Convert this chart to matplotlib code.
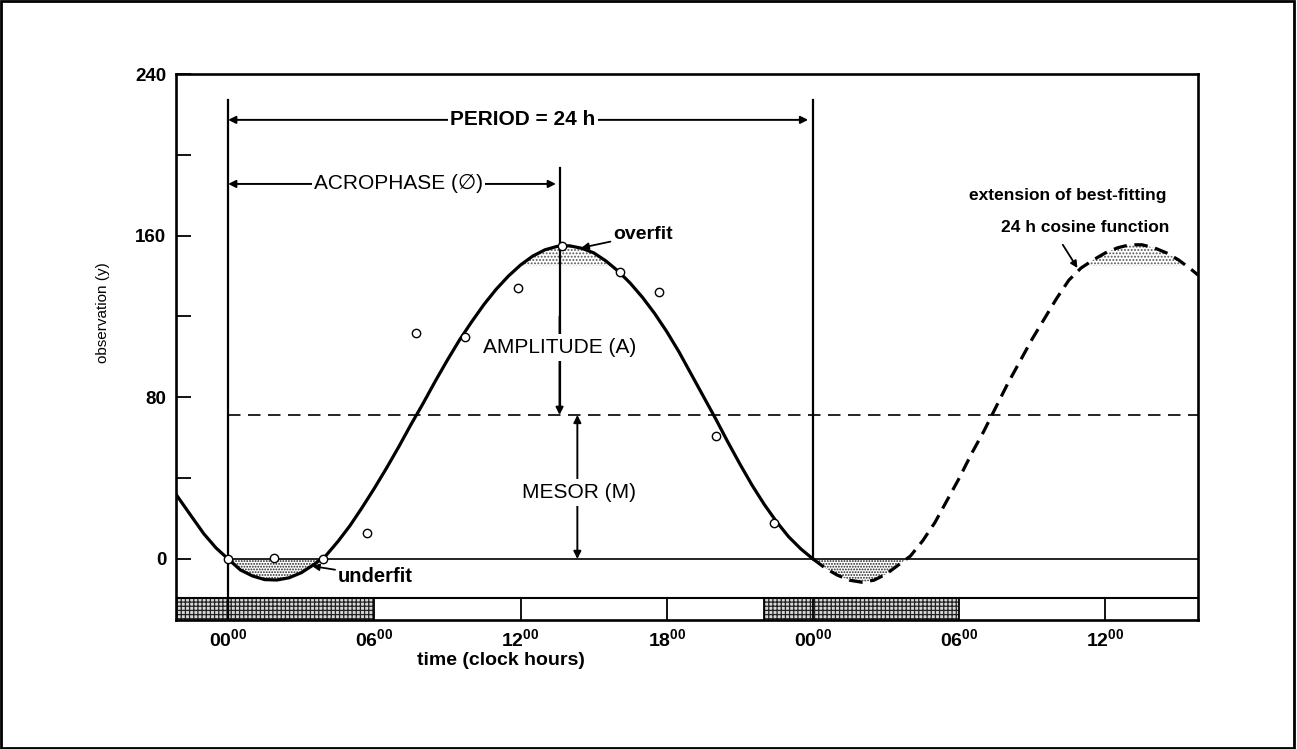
import numpy as np
import matplotlib
matplotlib.use("Agg")
import matplotlib.pyplot as plt
from matplotlib.patches import Rectangle

plt.rcParams['font.family'] = ['Liberation Sans', 'DejaVu Sans']
plt.rcParams['mathtext.fontset'] = 'custom'
plt.rcParams['mathtext.bf'] = 'Liberation Sans:bold'
plt.rcParams['mathtext.rm'] = 'Liberation Sans'
plt.rcParams['hatch.linewidth'] = 0.9

# fitted cosine (solid part, one period)
fit_t = [-2.14, -1.5, -1, -0.5, 0, 0.5, 1, 1.5, 2, 2.5, 3, 3.5, 4, 4.5, 5, 5.5,
         6, 6.5, 7, 7.5, 8, 8.5, 9, 9.5, 10, 10.5, 11, 11.5, 12, 12.5, 13, 13.5,
         14, 14.5, 15, 15.5, 16, 16.5, 17, 17.5, 18, 18.5, 19, 19.5, 20, 20.5,
         21, 21.5, 22, 22.5, 23, 23.5, 24]
fit_y = [32, 21, 12.5, 5.5, 0, -5.4, -8.4, -10.2, -10.4, -9.3, -6.8, -2.9, 1.5,
         8.6, 16.5, 25.5, 35, 45, 55.5, 66.5, 77, 88, 98.5, 108.5, 117.5, 126,
         133.5, 140, 145.5, 149.9, 153, 154.7, 155, 153.8, 151.5, 147.5, 142.5,
         136.5, 129.5, 121.5, 112.5, 102.5, 91.5, 80.5, 69.5, 58, 47, 36.5, 27,
         18.5, 11, 5, 0]

# extension of the cosine (dashed)
ext_t = [24, 24.5, 25, 25.5, 26, 26.5, 27, 27.5, 28, 28.5, 29, 29.5, 30, 30.5,
         31, 31.5, 32, 32.5, 33, 33.5, 34, 34.5, 35, 35.5, 36, 36.5, 37, 37.5,
         38, 38.5, 39, 39.5, 39.8]
ext_y = [0, -4.5, -8, -10.5, -11.5, -10.5, -7.5, -3, 1.5, 9, 18, 29, 40, 52,
         63, 75, 87, 98, 109, 119, 129, 138, 144, 148, 151.5, 154, 155.5, 155.5,
         154, 151.5, 148, 143.5, 140.5]

# observations (open circles)
obs_t = [0, 1.9, 3.9, 5.7, 7.7, 9.7, 11.9, 13.7, 16.1, 17.7, 20.0, 22.4]
obs_y = [0, 0.5, 0, 13, 112, 110, 134, 155, 142, 132, 61, 18]

mesor = 71.3
acrophase = 13.6
overfit_level = 145

# light/dark bar at bottom
dark_start = [-2.14, 22]
dark_end = [6, 30]
bar_dividers = [0, 12, 18, 24, 36]

xticks = [0, 6, 12, 18, 24, 30, 36]
xtick_labels = ['00', '06', '12', '18', '00', '06', '12']
yticks = [0, 40, 80, 120, 160, 200, 240]
ytick_labels = ['0', '', '80', '', '160', '', '240']

x_lo, x_hi = -2.14, 39.8
y_lo, y_hi = -30.2, 240
bar_top = -19.3

fig = plt.figure(figsize=(12.97, 7.49), dpi=100)
ax = fig.add_axes([0.1357, 0.1722, 0.7880, 0.7290])
ax.set_xlim(x_lo, x_hi)
ax.set_ylim(y_lo, y_hi)

fit_t = np.array(fit_t)
fit_y = np.array(fit_y)
ext_t = np.array(ext_t)
ext_y = np.array(ext_y)

# shaded under/overfit areas
ax.fill_between(fit_t, fit_y, 0, where=(fit_y < 0) & (fit_t >= 0), interpolate=True,
                facecolor='white', edgecolor='#222222', hatch='......', linewidth=0)
ax.fill_between(fit_t, fit_y, overfit_level, where=fit_y > overfit_level, interpolate=True,
                facecolor='white', edgecolor='#555555', hatch='.....', linewidth=0)
ax.fill_between(ext_t, ext_y, 0, where=ext_y < 0, interpolate=True,
                facecolor='white', edgecolor='#222222', hatch='......', linewidth=0)
ax.fill_between(ext_t, ext_y, overfit_level, where=ext_y > overfit_level, interpolate=True,
                facecolor='white', edgecolor='#555555', hatch='.....', linewidth=0)

# curves
ax.plot(fit_t, fit_y, color='black', lw=2.3, solid_capstyle='round',
        solid_joinstyle='round', zorder=4)
ax.plot(ext_t, ext_y, color='black', lw=2.3, dashes=(4.2, 2.4), zorder=4)
ax.plot([0, x_hi], [mesor, mesor], color='black', lw=1.2, dashes=(7.5, 4.5), zorder=2)
ax.plot([0, x_hi], [0, 0], color='black', lw=1.2, zorder=2)

ax.plot(obs_t, obs_y, 'o', ms=6, mfc='white', mec='black', mew=1.0, zorder=5)

# bottom day/night bar
for s, e in zip(dark_start, dark_end):
    ax.barh(bar_top + (y_lo - bar_top) / 2, e - s, left=s, height=bar_top - y_lo,
            facecolor='#d8d8d8', edgecolor='#222222', hatch='++++', linewidth=0, zorder=1)
ax.plot([x_lo, x_hi], [bar_top, bar_top], color='black', lw=1.5)
for s, e in zip(dark_start, dark_end):
    ax.plot([s, s], [y_lo, bar_top], color='black', lw=1.3)
    ax.plot([e, e], [y_lo, bar_top], color='black', lw=1.3)
for d in bar_dividers:
    ax.plot([d, d], [y_lo, bar_top], color='black', lw=1.3)

# period / acrophase frame lines
ax.plot([0, 0], [y_lo, 227], color='black', lw=1.6, zorder=3)
ax.plot([24, 24], [0, 227], color='black', lw=1.6, zorder=3)
ax.plot([acrophase, acrophase], [193.5, mesor + 3], color='black', lw=1.6, zorder=3)

arrow_kw = dict(arrowstyle='<|-|>', lw=1.4, color='black', mutation_scale=11,
                shrinkA=0, shrinkB=0)
ax.annotate('', xy=(0, 217.3), xytext=(23.8, 217.3), arrowprops=arrow_kw)
ax.text(12.1, 217.3, 'PERIOD = 24 h', ha='center', va='center', fontsize=15,
        fontweight='bold', bbox=dict(facecolor='white', edgecolor='none', pad=1.5))

ax.annotate('', xy=(0, 185.6), xytext=(acrophase - 0.15, 185.6), arrowprops=arrow_kw)
ax.text(7.0, 185.6, 'ACROPHASE (\u2205)', ha='center', va='center', fontsize=15,
        bbox=dict(facecolor='white', edgecolor='none', pad=1.5))

ax.annotate('', xy=(acrophase, mesor), xytext=(acrophase, 120),
            arrowprops=dict(arrowstyle='-|>', lw=1.4, color='black', mutation_scale=11,
                            shrinkA=0, shrinkB=0))
ax.text(acrophase, 104.5, 'AMPLITUDE (A)', ha='center', va='center', fontsize=15,
        bbox=dict(facecolor='white', edgecolor='none', pad=3))

ax.annotate('', xy=(14.33, 0), xytext=(14.33, mesor), arrowprops=arrow_kw)
ax.text(14.4, 33, 'MESOR (M)', ha='center', va='center', fontsize=15,
        bbox=dict(facecolor='white', edgecolor='none', pad=3))

# under/overfit labels
ax.annotate('underfit', xy=(3.45, -3.5), xytext=(4.5, -8.5), fontsize=14.5, fontweight='bold',
            va='center', ha='left',
            arrowprops=dict(arrowstyle='-|>', lw=1.3, color='black', mutation_scale=10,
                            shrinkA=0, shrinkB=0))
ax.annotate('overfit', xy=(14.5, 154), xytext=(15.8, 160.5), fontsize=14, fontweight='bold',
            va='center', ha='left',
            arrowprops=dict(arrowstyle='-|>', lw=1.3, color='black', mutation_scale=10,
                            shrinkA=0, shrinkB=0))

ax.text(30.4, 180, 'extension of best-fitting', fontsize=12.5, fontweight='bold',
        va='center', ha='left')
ax.text(31.7, 164, '24 h cosine function', fontsize=12.5, fontweight='bold',
        va='center', ha='left')
ax.annotate('', xy=(34.85, 144), xytext=(34.25, 155.5),
            arrowprops=dict(arrowstyle='-|>', lw=1.3, color='black', mutation_scale=10,
                            shrinkA=0, shrinkB=0))

# axes styling
for side in ['left', 'right', 'top', 'bottom']:
    ax.spines[side].set_linewidth(1.9)
ax.set_yticks(yticks)
ax.set_yticklabels(ytick_labels, fontsize=13.5, fontweight='bold')
ax.tick_params(axis='y', direction='in', length=11, width=1.3, pad=7)
ax.set_xticks(xticks)
ax.set_xticklabels([r'$\mathbf{%s}^{\mathbf{00}}$' % s for s in xtick_labels], fontsize=14)
ax.tick_params(axis='x', length=0, pad=6)
ax.text(11.2, -50, 'time (clock hours)', fontsize=14, fontweight='bold',
        ha='center', va='center')
ax.text(-0.071, 0.563, 'observation (y)', transform=ax.transAxes, rotation=90,
        ha='center', va='center', fontsize=11)

# frame around the whole figure
fig.patches.append(Rectangle((0.001, 0.002), 0.997, 0.996, transform=fig.transFigure,
                             fill=False, edgecolor='black', lw=2))

fig.savefig('out.png', dpi=100)
